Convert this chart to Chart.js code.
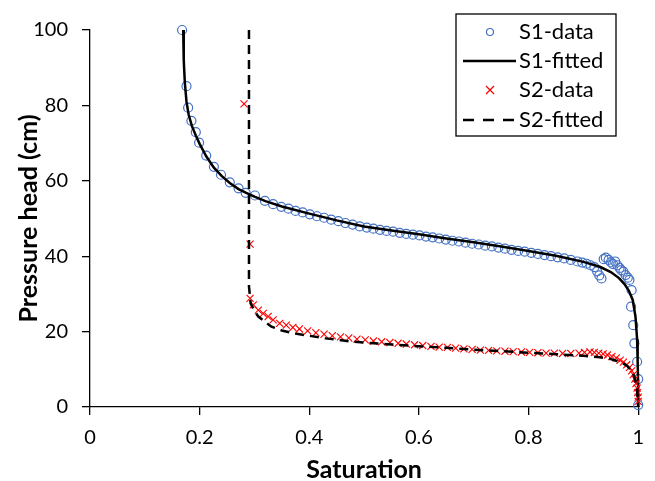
<!DOCTYPE html>
<html>
<head>
<meta charset="utf-8">
<script src="https://cdn.jsdelivr.net/npm/chart.js@4.4.0/dist/chart.umd.min.js"></script>
<style>
  body { margin: 0; background: #fff; }
  #wrap { width: 655px; height: 481px; }
</style>
</head>
<body>
<div id="wrap"><canvas id="retentionChart" width="655" height="481"></canvas></div>
<script>
// Saturation / pressure head readings
const s1DataX = [0.168,0.176,0.179,0.185,0.193,0.199,0.212,0.226,0.239,0.255,0.271,0.284,0.301,0.319,0.334,0.349,
  0.362,0.375,0.388,0.401,0.414,0.427,0.440,0.453,0.466,0.479,0.492,0.505,0.517,0.529,0.541,0.553,0.565,0.577,
  0.589,0.601,0.613,0.625,0.637,0.649,0.661,0.673,0.685,0.697,0.709,0.721,0.733,0.745,0.757,0.769,0.781,0.793,
  0.805,0.817,0.829,0.841,0.853,0.865,0.877,0.889,0.898,0.906,0.913,0.920,0.925,0.929,0.933,0.937,0.941,0.946,
  0.950,0.954,0.958,0.962,0.966,0.969,0.973,0.977,0.981,0.984,0.988,0.987,0.991,0.993,0.998,1.0,1.0];
const s1DataY = [100,85.1,79.4,75.9,72.9,70.1,66.7,63.7,61.6,59.6,58.0,56.8,56.1,54.7,53.8,53.1,
  52.6,52.0,51.6,51.1,50.6,50.2,49.7,49.3,48.8,48.4,47.9,47.6,47.3,47.0,46.7,46.5,46.2,45.9,
  45.7,45.5,45.2,45.0,44.7,44.4,44.1,43.9,43.6,43.3,43.1,42.8,42.6,42.3,42.0,41.7,41.4,41.2,
  40.9,40.6,40.3,40.0,39.7,39.4,39.0,38.6,38.3,38.0,37.6,37.1,36.0,34.9,34.1,39.2,39.6,39.0,
  38.4,37.9,38.6,37.6,36.9,36.3,35.9,35.0,34.3,33.7,31.0,26.6,21.7,16.9,12.0,7.4,0.5];

const s1FitX = [0.170,0.171,0.173,0.176,0.180,0.186,0.193,0.200,0.212,0.226,0.240,0.255,0.271,0.285,0.300,0.320,
  0.350,0.400,0.450,0.500,0.550,0.600,0.650,0.700,0.750,0.800,0.850,0.900,0.930,0.950,0.965,0.975,0.983,0.990,
  0.995,0.998,0.999,1.0,1.0];
const s1FitY = [100,92,86,81,77.5,74.5,72,69.8,66.5,63.5,61.3,59.4,57.8,56.8,55.8,54.6,
  53.2,51.3,49.5,47.9,46.8,45.8,44.7,43.7,42.6,41.4,40.1,38.5,37.2,35.8,34.2,32.6,30.8,28.4,
  24,18,12,5,0];

const s2DataX = [0.281,0.292,0.292,0.298,0.307,0.316,0.325,0.334,0.346,0.358,0.370,0.382,0.397,0.412,0.427,0.442,
  0.457,0.472,0.487,0.502,0.517,0.532,0.547,0.562,0.577,0.592,0.607,0.622,0.637,0.652,0.667,0.682,0.697,0.712,
  0.727,0.742,0.757,0.772,0.787,0.802,0.817,0.832,0.847,0.862,0.877,0.892,0.902,0.912,0.920,0.928,0.936,0.944,
  0.952,0.960,0.967,0.973,0.979,0.984,0.988,0.991,0.994,0.996,0.998,0.999,1.0,1.0];
const s2DataY = [80.4,43.2,28.8,27.1,25.7,24.8,24.0,23.1,22.2,21.7,21.1,20.7,20.2,19.7,19.3,18.9,
  18.6,18.3,18.0,17.8,17.5,17.3,17.1,16.9,16.7,16.5,16.3,16.1,15.9,15.8,15.6,15.4,15.3,15.1,
  15.0,14.9,14.8,14.7,14.6,14.5,14.4,14.3,14.3,14.2,14.2,14.3,14.5,14.6,14.5,14.3,14.1,13.8,
  13.4,13.0,12.4,11.9,11.2,10.5,9.6,8.6,7.4,6.2,5.0,3.8,2.6,1.5];

const s2FitX = [0.290,0.290,0.293,0.300,0.307,0.320,0.331,0.350,0.370,0.391,0.430,0.481,0.550,0.600,0.650,0.700,
  0.750,0.800,0.850,0.900,0.930,0.950,0.970,0.980,0.990,0.995,0.998,1.0];
const s2FitY = [100,32,27.5,25.5,24,22.5,21.3,20.3,19.6,19.1,18.2,17.3,16.6,16.1,15.7,15.2,
  14.8,14.4,14.0,13.6,13.2,12.7,11.8,10.9,9.2,7,4.5,0];

const seriesNames = ['S1-data', 'S1-fitted', 'S2-data', 'S2-fitted'];
const xTickLabels = ['0', '0.2', '0.4', '0.6', '0.8', '1'];
const yTickLabels = ['0', '20', '40', '60', '80', '100'];

const FONT = 'Lato, "Open Sans", sans-serif';
const BLUE = '#4472C4';
const RED = '#FF0000';

function pairs(xs, ys) {
    return xs.map((x, i) => ({ x: x, y: ys[i] }));
}

// legend box drawn inside the plot, like the original
const boxLegend = {
    id: 'boxLegend',
    afterDraw(chart) {
        const ctx = chart.ctx;
        const left = 456, top = 14, w = 160, h = 122;
        const rows = [32, 61, 90, 120];
        ctx.save();
        ctx.fillStyle = '#fff';
        ctx.fillRect(left, top, w, h);
        ctx.strokeStyle = '#000';
        ctx.lineWidth = 1.3;
        ctx.strokeRect(left, top, w, h);

        // S1-data marker
        ctx.strokeStyle = BLUE;
        ctx.lineWidth = 1.2;
        ctx.beginPath();
        ctx.arc(490, rows[0], 3.5, 0, Math.PI * 2);
        ctx.stroke();
        // S1-fitted line
        ctx.strokeStyle = '#000';
        ctx.lineWidth = 2.5;
        ctx.beginPath();
        ctx.moveTo(463, rows[1]);
        ctx.lineTo(516, rows[1]);
        ctx.stroke();
        // S2-data marker
        ctx.strokeStyle = RED;
        ctx.lineWidth = 1.2;
        ctx.beginPath();
        ctx.moveTo(486, rows[2] - 4); ctx.lineTo(494, rows[2] + 4);
        ctx.moveTo(494, rows[2] - 4); ctx.lineTo(486, rows[2] + 4);
        ctx.stroke();
        // S2-fitted dashed
        ctx.strokeStyle = '#000';
        ctx.lineWidth = 2.5;
        ctx.setLineDash([11, 9]);
        ctx.beginPath();
        ctx.moveTo(463, rows[3]);
        ctx.lineTo(516, rows[3]);
        ctx.stroke();
        ctx.setLineDash([]);

        ctx.fillStyle = '#000';
        ctx.font = '22px ' + FONT;
        ctx.textAlign = 'left';
        ctx.textBaseline = 'middle';
        seriesNames.forEach((name, i) => ctx.fillText(name, 519, rows[i]));
        ctx.restore();
    }
};

function initChart() {
    const ctx = document.getElementById('retentionChart').getContext('2d');
    new Chart(ctx, {
        type: 'scatter',
        data: {
            datasets: [
                {
                    label: seriesNames[0],
                    data: pairs(s1DataX, s1DataY),
                    pointStyle: 'circle',
                    pointRadius: 4.5,
                    borderColor: BLUE,
                    backgroundColor: 'rgba(0,0,0,0)',
                    borderWidth: 1.2,
                    clip: false,
                    order: 4
                },
                {
                    label: seriesNames[1],
                    data: pairs(s1FitX, s1FitY),
                    showLine: true,
                    pointRadius: 0,
                    borderColor: '#000',
                    borderWidth: 2.5,
                    tension: 0,
                    clip: false,
                    order: 3
                },
                {
                    label: seriesNames[2],
                    data: pairs(s2DataX, s2DataY),
                    pointStyle: 'crossRot',
                    pointRadius: 5,
                    borderColor: RED,
                    backgroundColor: RED,
                    borderWidth: 1.1,
                    clip: false,
                    order: 2
                },
                {
                    label: seriesNames[3],
                    data: pairs(s2FitX, s2FitY),
                    showLine: true,
                    pointRadius: 0,
                    borderColor: '#000',
                    borderWidth: 2.5,
                    borderDash: [9, 6],
                    tension: 0,
                    clip: false,
                    order: 1
                }
            ]
        },
        options: {
            responsive: false,
            animation: false,
            layout: { padding: { top: 30, right: 11, left: 0, bottom: 0 } },
            plugins: {
                legend: { display: false },
                tooltip: { enabled: false }
            },
            scales: {
                x: {
                    type: 'linear',
                    min: 0,
                    max: 1,
                    afterFit: (scale) => { scale.height = 74; },
                    ticks: {
                        stepSize: 0.2,
                        color: '#000',
                        padding: 11,
                        font: { family: FONT, size: 20 },
                        callback: (v, i) => xTickLabels[i]
                    },
                    grid: { drawOnChartArea: false, drawTicks: true, tickLength: 8, color: '#000', lineWidth: 1.3 },
                    border: { color: '#000', width: 1.3 },
                    title: {
                        display: true,
                        text: 'Saturation',
                        color: '#000',
                        font: { family: FONT, size: 25, weight: 'bold' },
                        padding: { top: 0, bottom: -4 }
                    }
                },
                y: {
                    type: 'linear',
                    min: 0,
                    max: 100,
                    afterFit: (scale) => { scale.width = 90; },
                    ticks: {
                        stepSize: 20,
                        color: '#000',
                        padding: 14,
                        font: { family: FONT, size: 20 },
                        callback: (v, i) => yTickLabels[i]
                    },
                    grid: { drawOnChartArea: false, drawTicks: true, tickLength: 8, color: '#000', lineWidth: 1.3 },
                    border: { color: '#000', width: 1.3 },
                    title: {
                        display: true,
                        text: 'Pressure head (cm)',
                        color: '#000',
                        font: { family: FONT, size: 25, weight: 'bold' },
                        padding: { top: 14, bottom: 0 }
                    }
                }
            }
        },
        plugins: [boxLegend]
    });
}

window.onload = () => {
    initChart();
};
</script>
</body>
</html>
